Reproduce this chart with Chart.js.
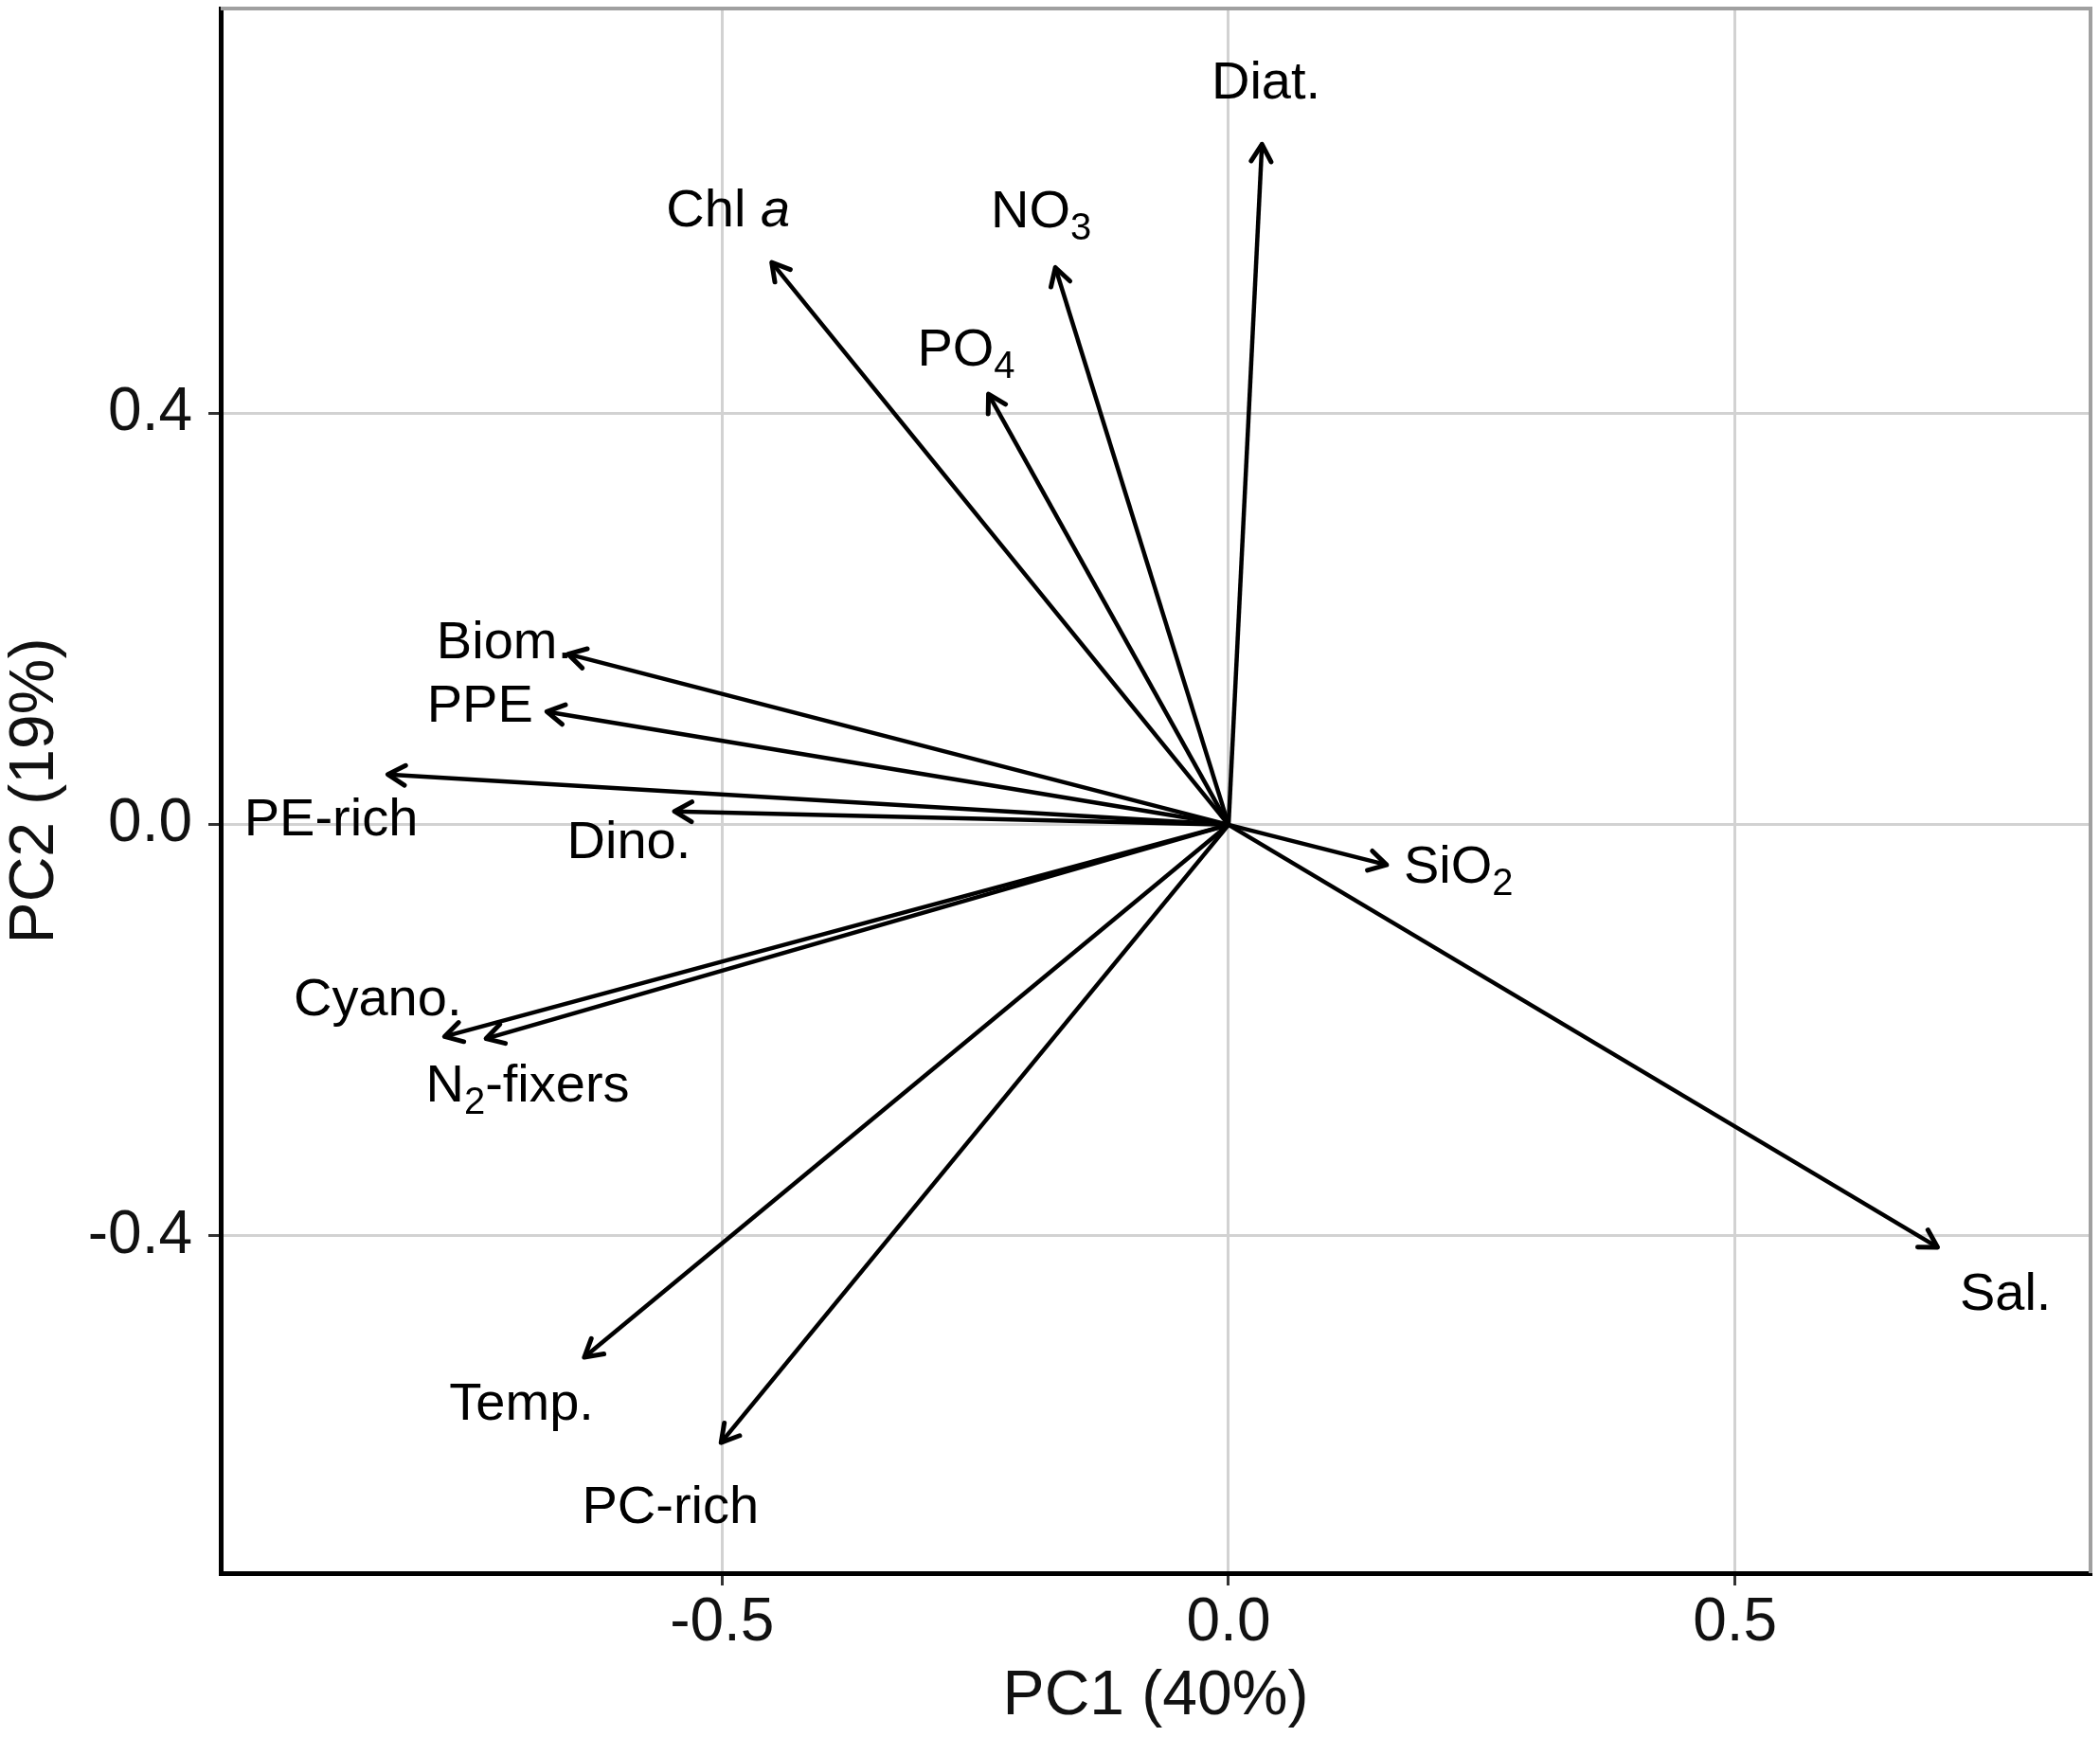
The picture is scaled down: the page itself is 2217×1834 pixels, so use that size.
<!DOCTYPE html>
<html lang="en">
<head>
    <meta charset="UTF-8">
    <title>PCA biplot</title>
    <script src="https://cdn.jsdelivr.net/npm/chart.js"></script>
    <style>
        html, body { margin: 0; padding: 0; background: #ffffff; }
        canvas { display: block; }
    </style>
</head>
<body>
    <canvas id="biplot" width="2217" height="1834"></canvas>

    <script>
        // variables of the PCA (loadings), "_" = subscript char, "*..*" = italic
        const variables = ['Diat.', 'Chl *a*', 'NO_3', 'PO_4', 'Biom.', 'PPE', 'PE-rich', 'Dino.',
                           'SiO_2', 'Sal.', 'Cyano.', 'N_2-fixers', 'Temp.', 'PC-rich'];
        const pc1 = [0.033, -0.451, -0.171, -0.237, -0.652, -0.673, -0.830, -0.547,
                     0.156, 0.700, -0.774, -0.733, -0.636, -0.501];
        const pc2 = [0.662, 0.547, 0.542, 0.419, 0.166, 0.110, 0.049, 0.013,
                     -0.039, -0.411, -0.206, -0.208, -0.518, -0.601];
        // where each label sits (data units)
        const labelX = [0.037, -0.494, -0.185, -0.259, -0.715, -0.739, -0.886, -0.592,
                        0.227, 0.767, -0.840, -0.692, -0.698, -0.551];
        const labelY = [0.725, 0.601, 0.600, 0.465, 0.180, 0.119, 0.008, -0.014,
                        -0.038, -0.453, -0.167, -0.251, -0.560, -0.661];

        const xTicks = [-0.5, 0.0, 0.5];
        const yTicks = [-0.4, 0.0, 0.4];
        const xRange = [-0.995, 0.851];
        const yRange = [-0.728, 0.794];

        const FONT = '"Liberation Sans", Arial, Helvetica, sans-serif';
        const labelSize = 56;

        // split "NO_3" / "Chl *a*" into pieces
        function parseLabel(txt) {
            const parts = [];
            let i = 0, buf = '', italic = false;
            while (i < txt.length) {
                const c = txt[i];
                if (c === '_') {
                    if (buf) parts.push({ t: buf, it: italic });
                    buf = '';
                    parts.push({ t: txt[i + 1], sub: true });
                    i += 2;
                    continue;
                }
                if (c === '*') {
                    if (buf) parts.push({ t: buf, it: italic });
                    buf = '';
                    italic = !italic;
                    i++;
                    continue;
                }
                buf += c;
                i++;
            }
            if (buf) parts.push({ t: buf, it: italic });
            return parts;
        }

        function setFont(ctx, p) {
            const size = p.sub ? 40 : labelSize;
            ctx.font = (p.it ? 'italic ' : '') + size + 'px ' + FONT;
        }

        const arrowPlugin = {
            id: 'arrows',
            afterDatasetsDraw(chart) {
                const ctx = chart.ctx;
                const xs = chart.scales.x, ys = chart.scales.y;
                const x0 = xs.getPixelForValue(0), y0 = ys.getPixelForValue(0);

                ctx.save();
                ctx.strokeStyle = '#000';
                ctx.lineWidth = 5;
                ctx.lineCap = 'round';
                ctx.lineJoin = 'round';
                pc1.forEach((v, i) => {
                    const tx = xs.getPixelForValue(v), ty = ys.getPixelForValue(pc2[i]);
                    const ang = Math.atan2(ty - y0, tx - x0);
                    const len = 21, spread = Math.PI / 6;
                    ctx.beginPath();
                    ctx.moveTo(tx - len * Math.cos(ang - spread), ty - len * Math.sin(ang - spread));
                    ctx.lineTo(tx, ty);
                    ctx.lineTo(tx - len * Math.cos(ang + spread), ty - len * Math.sin(ang + spread));
                    ctx.stroke();
                });

                // labels
                ctx.fillStyle = '#000';
                ctx.textBaseline = 'alphabetic';
                ctx.textAlign = 'left';
                variables.forEach((name, i) => {
                    const parts = parseLabel(name);
                    let w = 0;
                    parts.forEach(p => { setFont(ctx, p); p.w = ctx.measureText(p.t).width; w += p.w; });
                    let cx = xs.getPixelForValue(labelX[i]) - w / 2;
                    const base = ys.getPixelForValue(labelY[i]) + 0.358 * labelSize;
                    parts.forEach(p => {
                        setFont(ctx, p);
                        ctx.fillText(p.t, cx, p.sub ? base + 13 : base);
                        cx += p.w;
                    });
                });
                ctx.restore();
            },
            afterDraw(chart) {
                // gray top and right panel border
                const a = chart.chartArea, ctx = chart.ctx;
                ctx.save();
                ctx.strokeStyle = '#a0a0a0';
                ctx.lineWidth = 4;
                ctx.beginPath();
                ctx.moveTo(a.left, a.top);
                ctx.lineTo(a.right, a.top);
                ctx.lineTo(a.right, a.bottom);
                ctx.stroke();
                ctx.restore();
            }
        };

        const datasets = variables.map((name, i) => ({
            label: name,
            data: [{ x: 0, y: 0 }, { x: pc1[i], y: pc2[i] }],
            showLine: true,
            borderColor: '#000',
            borderWidth: 4.5,
            pointRadius: 0,
            fill: false
        }));

        new Chart(document.getElementById('biplot').getContext('2d'), {
            type: 'scatter',
            data: { datasets: datasets },
            plugins: [arrowPlugin],
            options: {
                responsive: false,
                animation: false,
                devicePixelRatio: 1,
                layout: { padding: { top: 9, right: 10, left: 0, bottom: 0 } },
                plugins: { legend: { display: false }, tooltip: { enabled: false } },
                scales: {
                    x: {
                        type: 'linear',
                        min: xRange[0],
                        max: xRange[1],
                        afterBuildTicks: s => { s.ticks = xTicks.map(v => ({ value: v })); },
                        afterFit: s => { s.height = 173; s.paddingLeft = 0; s.paddingRight = 0; },
                        grid: { color: '#d2d2d2', lineWidth: 3, tickColor: '#333', tickWidth: 3, tickLength: 13 },
                        border: { display: true, color: '#000', width: 5 },
                        ticks: {
                            callback: v => v.toFixed(1),
                            font: { family: FONT, size: 64 },
                            color: '#111',
                            padding: 2,
                            maxRotation: 0
                        },
                        title: {
                            display: true,
                            text: 'PC1 (40%)',
                            font: { family: FONT, size: 66, lineHeight: 1.2 },
                            color: '#111',
                            padding: { top: 0, bottom: 3 }
                        }
                    },
                    y: {
                        type: 'linear',
                        min: yRange[0],
                        max: yRange[1],
                        afterBuildTicks: s => { s.ticks = yTicks.map(v => ({ value: v })); },
                        afterFit: s => { s.width = 233; s.paddingTop = 0; s.paddingBottom = 0; },
                        grid: { color: '#d2d2d2', lineWidth: 3, tickColor: '#333', tickWidth: 3, tickLength: 13 },
                        border: { display: true, color: '#000', width: 5 },
                        ticks: {
                            callback: v => v.toFixed(1),
                            font: { family: FONT, size: 64 },
                            color: '#111',
                            padding: 17
                        },
                        title: {
                            display: true,
                            text: 'PC2 (19%)',
                            font: { family: FONT, size: 66, lineHeight: 1.1 },
                            color: '#111',
                            padding: { top: 1, bottom: 0 }
                        }
                    }
                }
            }
        });
    </script>
</body>
</html>
